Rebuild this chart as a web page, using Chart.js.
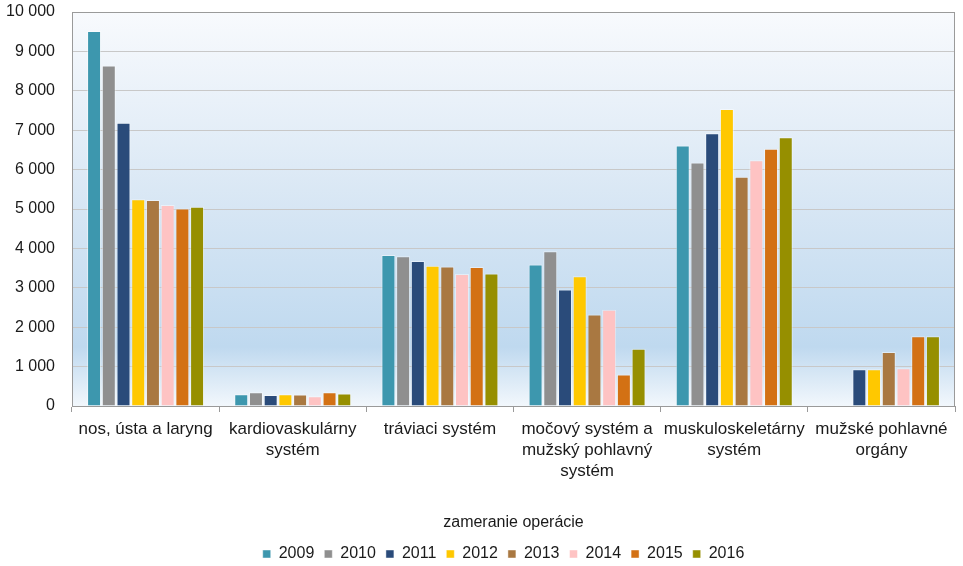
<!DOCTYPE html>
<html>
<head>
<meta charset="utf-8">
<script src="https://cdn.jsdelivr.net/npm/chart.js@4/dist/chart.umd.min.js"></script>
<style>
  body { margin: 0; background: #fff; }
  #box { width: 963px; height: 566px; }
</style>
</head>
<body>
<div id="box"><canvas id="myChart"></canvas></div>
<script>
"use strict";

let categories = [
    'nos, ústa a laryng',
    ['kardiovaskulárny', 'systém'],
    'tráviaci systém',
    ['močový systém a', 'mužský pohlavný', 'systém'],
    ['muskuloskeletárny', 'systém'],
    ['mužské pohlavné', 'orgány']
];
let years = ['2009', '2010', '2011', '2012', '2013', '2014', '2015', '2016'];
let colors = ['#3d97ae', '#8f8f8f', '#2a4b7a', '#ffc800', '#a97841', '#fec3c3', '#d37114', '#968f00'];

let v2009 = [9520, 300, 3830, 3590, 6610, null];
let v2010 = [8640, 350, 3800, 3930, 6180, null];
let v2011 = [7190, 280, 3680, 2960, 6920, 930];
let v2012 = [5250, 300, 3560, 3290, 7540, 930];
let v2013 = [5230, 290, 3540, 2320, 5820, 1370];
let v2014 = [5100, 250, 3350, 2440, 6240, 960];
let v2015 = [5010, 350, 3530, 800, 6530, 1770];
let v2016 = [5060, 320, 3360, 1450, 6820, 1770];
let seriesValues = [v2009, v2010, v2011, v2012, v2013, v2014, v2015, v2016];

let yTicks = [0, 1000, 2000, 3000, 4000, 5000, 6000, 7000, 8000, 9000, 10000];

let font = "'Liberation Sans', Arial, sans-serif";
let textColor = '#1a1a1a';

function formatThousands(v) {
    return String(v).replace(/\B(?=(\d{3})+(?!\d))/g, ' ');
}

// gradient behind the plot area plus the frame round it
let plotBackground = {
    id: 'plotBackground',
    afterUpdate(chart) {
        // legend sits a bit right of the canvas centre in the original
        chart.legend.left += 26;
        chart.legend.right += 26;
        chart.legend.top += 6;
        chart.legend.bottom += 6;
    },
    beforeDraw(chart) {
        let a = chart.chartArea;
        let ctx = chart.ctx;
        let g = ctx.createLinearGradient(0, a.top, 0, a.bottom);
        g.addColorStop(0, '#f8fafd');
        g.addColorStop(0.5, '#d7e6f4');
        g.addColorStop(0.85, '#bfd9ef');
        g.addColorStop(1, '#f2f7fc');
        ctx.save();
        ctx.fillStyle = g;
        ctx.fillRect(a.left, a.top, a.right - a.left, a.bottom - a.top);
        ctx.restore();
    },
    afterDatasetsDraw(chart) {
        let a = chart.chartArea;
        let ctx = chart.ctx;
        ctx.save();
        ctx.strokeStyle = '#9a9a9a';
        ctx.lineWidth = 1;
        ctx.strokeRect(a.left + 0.5, a.top + 0.5, a.right - a.left - 1, a.bottom - a.top);
        ctx.restore();
    }
};

let datasets = [];
for (let i = 0; i < years.length; i++) {
    datasets.push({
        label: years[i],
        data: seriesValues[i],
        backgroundColor: colors[i],
        borderColor: 'rgba(255,255,255,0.45)',
        borderWidth: 1,
        barPercentage: 0.95,
        categoryPercentage: 0.8
    });
}

let ctx = document.getElementById('myChart').getContext('2d');
let myChart = new Chart(ctx, {
    type: 'bar',
    data: { labels: categories, datasets: datasets },
    plugins: [plotBackground],
    options: {
        responsive: true,
        maintainAspectRatio: false,
        animation: false,
        devicePixelRatio: 1,
        layout: { padding: { left: 0, right: 8, top: 4, bottom: 0 } },
        plugins: {
            tooltip: { enabled: false },
            legend: {
                position: 'bottom',
                labels: {
                    boxWidth: 8,
                    boxHeight: 8,
                    padding: 10,
                    color: textColor,
                    font: { family: font, size: 16 }
                }
            }
        },
        scales: {
            x: {
                grid: { drawOnChartArea: false, drawTicks: true, tickLength: 6, offset: true, color: '#9a9a9a' },
                border: { color: '#9a9a9a' },
                ticks: {
                    color: textColor,
                    padding: 7,
                    maxRotation: 0,
                    autoSkip: false,
                    font: { family: font, size: 17, lineHeight: 1.24 }
                },
                title: {
                    display: true,
                    text: 'zameranie operácie',
                    color: textColor,
                    font: { family: font, size: 16 },
                    padding: { top: 4, bottom: -2 }
                },
                afterFit(scale) { scale.height = 124; }
            },
            y: {
                min: 0,
                max: 10000,
                afterBuildTicks(scale) {
                    scale.ticks = yTicks.map(v => ({ value: v }));
                },
                grid: { color: '#c8c8c8', drawTicks: false },
                border: { color: '#9a9a9a' },
                ticks: {
                    color: textColor,
                    padding: 17,
                    font: { family: font, size: 16 },
                    callback: (v) => formatThousands(v)
                },
                afterFit(scale) {
                    scale.width = 72;
                    scale.paddingTop = 12;
                    scale.paddingBottom = 10;
                }
            }
        }
    }
});
</script>
</body>
</html>
